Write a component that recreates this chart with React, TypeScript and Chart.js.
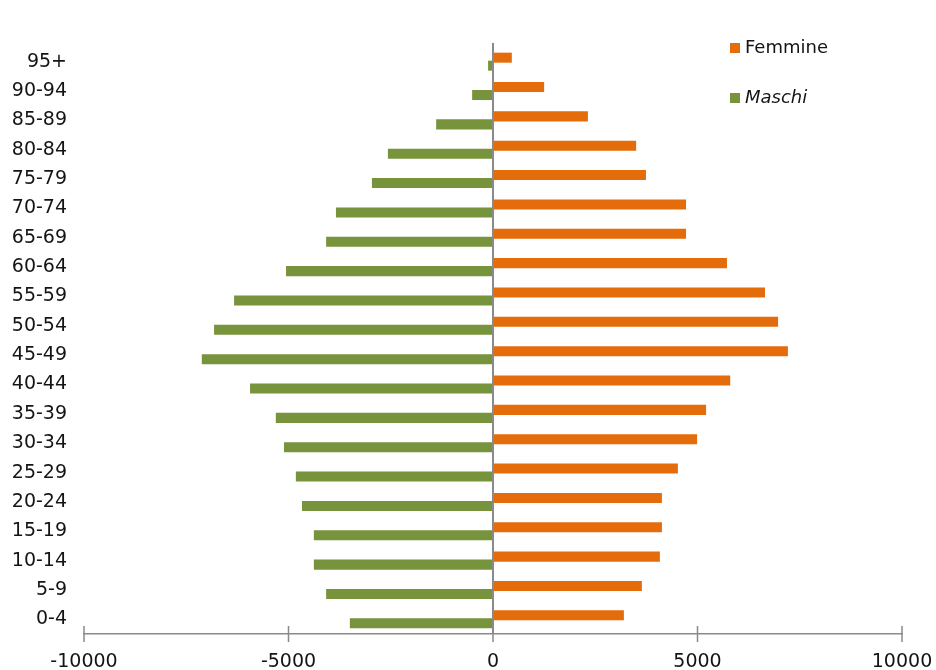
import React, { useEffect, useRef } from 'react';
import { Chart, registerables } from 'chart.js';

Chart.register(...registerables);

const categories = ['95+', '90-94', '85-89', '80-84', '75-79', '70-74', '65-69', '60-64', '55-59', '50-54', '45-49', '40-44', '35-39', '30-34', '25-29', '20-24', '15-19', '10-14', '5-9', '0-4'];
const femmine = [460, 1250, 2320, 3500, 3740, 4720, 4720, 5720, 6650, 6970, 7210, 5800, 5210, 4990, 4520, 4130, 4130, 4080, 3640, 3200];
const maschi = [-120, -510, -1390, -2570, -2960, -3840, -4080, -5060, -6330, -6820, -7120, -5940, -5310, -5110, -4820, -4670, -4380, -4380, -4080, -3500];
const xTicks = [-10000, -5000, 0, 5000, 10000];
const seriesNames = ['Femmine', 'Maschi'];
const seriesColors = ['#E46C0A', '#77933C'];

const FONT = "'DejaVu Sans', sans-serif";

const axisDecor = {
  id: 'axisDecor',
  afterDatasetsDraw(chart: any) {
    const { ctx, chartArea } = chart;
    const xs = chart.scales.x;
    ctx.save();
    ctx.strokeStyle = '#8a8a8a';
    ctx.lineWidth = 2;
    const x0 = xs.getPixelForValue(0);
    ctx.beginPath();
    ctx.moveTo(x0, chartArea.top - 4);
    ctx.lineTo(x0, chartArea.bottom);
    ctx.stroke();
    ctx.lineWidth = 1.5;
    xs.ticks.forEach((t: any) => {
      const px = xs.getPixelForValue(t.value);
      ctx.beginPath();
      ctx.moveTo(px, chartArea.bottom - 8);
      ctx.lineTo(px, chartArea.bottom + 8);
      ctx.stroke();
    });
    ctx.restore();
  },
};

const customLegend = {
  id: 'customLegend',
  afterDraw(chart: any) {
    const { ctx } = chart;
    ctx.save();
    chart.data.datasets.forEach((ds: any, i: number) => {
      const y = 48 + i * 50;
      ctx.fillStyle = ds.backgroundColor;
      ctx.fillRect(730, y - 5, 10, 10);
      ctx.fillStyle = '#141414';
      ctx.font = (i === 1 ? 'italic ' : '') + '18px ' + FONT;
      ctx.textAlign = 'left';
      ctx.textBaseline = 'middle';
      ctx.fillText(ds.label, 745, y);
    });
    ctx.restore();
  },
};

export default function App() {
  const ref = useRef<HTMLCanvasElement | null>(null);
  useEffect(() => {
    if (!ref.current) return;
    const chart = new Chart(ref.current, {
      type: 'bar',
      data: {
        labels: categories,
        datasets: [
          {
            label: seriesNames[0],
            data: femmine,
            backgroundColor: seriesColors[0],
            categoryPercentage: 0.546,
            barPercentage: 1.25,
          },
          {
            label: seriesNames[1],
            data: maschi,
            backgroundColor: seriesColors[1],
            categoryPercentage: 0.546,
            barPercentage: 1.25,
          },
        ],
      },
      options: {
        indexAxis: 'y',
        responsive: false,
        animation: false,
        layout: { padding: { top: 47, right: 34, left: 0, bottom: 0 } },
        plugins: { legend: { display: false }, tooltip: { enabled: false } },
        scales: {
          x: {
            type: 'linear',
            min: -10000,
            max: 10000,
            afterBuildTicks: (s: any) => {
              s.ticks = xTicks.map((v) => ({ value: v }));
            },
            afterFit: (s: any) => {
              s.height = 36;
              s.paddingLeft = 0;
              s.paddingRight = 0;
            },
            grid: { display: false, drawTicks: false, tickLength: 0 },
            border: { display: true, color: '#8a8a8a', width: 1.5 },
            ticks: {
              font: { family: FONT, size: 19 },
              color: '#141414',
              padding: 17,
              maxRotation: 0,
              minRotation: 0,
              callback: (v: any) => String(v),
            },
          },
          y: {
            type: 'category',
            grid: { display: false, drawTicks: false, tickLength: 0 },
            border: { display: false },
            ticks: { font: { family: FONT, size: 19 }, color: '#141414', padding: 17, autoSkip: false },
            afterFit: (s: any) => {
              s.width = 84;
            },
          },
        },
      },
      plugins: [axisDecor, customLegend],
    } as any);
    return () => chart.destroy();
  }, []);
  return (
    <div style={{ position: 'absolute', left: 0, top: 0, width: 936, height: 670 }}>
      <canvas ref={ref} width={936} height={670} style={{ width: 936, height: 670 }} />
    </div>
  );
}
